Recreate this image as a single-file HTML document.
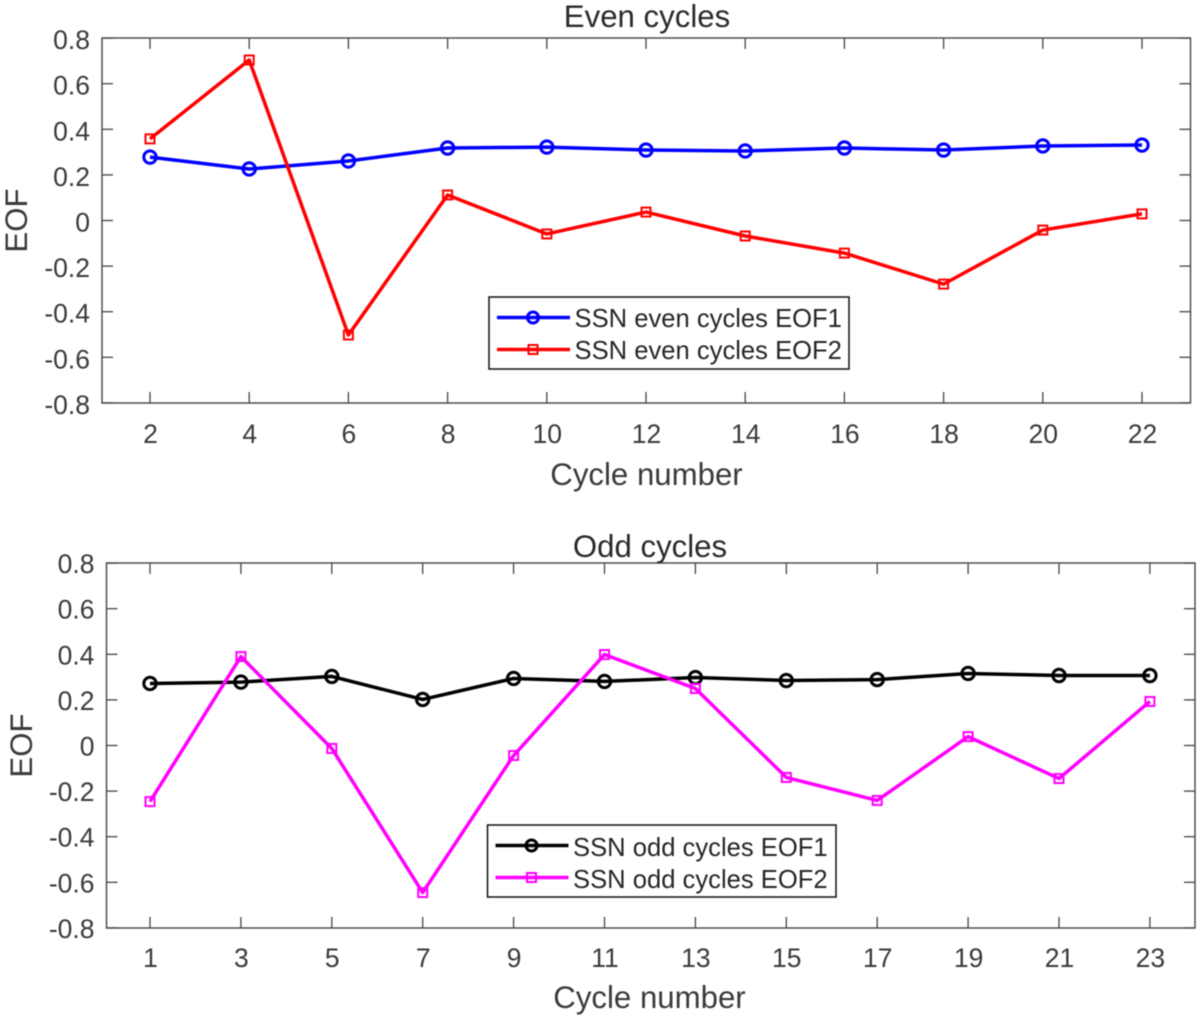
<!DOCTYPE html>
<html lang="en">
<head>
<meta charset="utf-8">
<title>Even and odd cycles EOF</title>
<style>
html,body{margin:0;padding:0;background:#fff;width:1200px;height:1019px;overflow:hidden}
svg{display:block;filter:blur(0.5px)}
text{font-family:"Liberation Sans",Arial,sans-serif}
</style>
</head>
<body>
<svg id="figure" xmlns="http://www.w3.org/2000/svg" width="1200" height="1019" viewBox="0 0 1200 1019"></svg>
<script>
const evenCycles = [2, 4, 6, 8, 10, 12, 14, 16, 18, 20, 22];
const evenEof1 = [0.278, 0.226, 0.261, 0.318, 0.322, 0.309, 0.305, 0.318, 0.309, 0.327, 0.331];
const evenEof2 = [0.358, 0.704, -0.502, 0.112, -0.059, 0.037, -0.068, -0.143, -0.279, -0.042, 0.029];
const oddCycles = [1, 3, 5, 7, 9, 11, 13, 15, 17, 19, 21, 23];
const oddEof1 = [0.272, 0.278, 0.303, 0.202, 0.294, 0.281, 0.298, 0.285, 0.289, 0.316, 0.307, 0.307];
const oddEof2 = [-0.246, 0.390, -0.013, -0.645, -0.044, 0.399, 0.250, -0.140, -0.241, 0.039, -0.145, 0.193];
const yTickValues = [0.8, 0.6, 0.4, 0.2, 0, -0.2, -0.4, -0.6, -0.8];
const evenTitle = 'Even cycles';
const oddTitle = 'Odd cycles';
const evenLegendLabels = ['SSN even cycles EOF1', 'SSN even cycles EOF2'];
const oddLegendLabels = ['SSN odd cycles EOF1', 'SSN odd cycles EOF2'];

const NS = 'http://www.w3.org/2000/svg';
const figure = document.getElementById('figure');
const AXIS = '#444444';

function make(parent, tag, attrs, text) {
  const el = document.createElementNS(NS, tag);
  for (const k in attrs) el.setAttribute(k, attrs[k]);
  if (text !== undefined) el.textContent = text;
  parent.appendChild(el);
  return el;
}

function marker(parent, kind, x, y, color, name, small) {
  let el;
  if (kind === 'circle') {
    el = make(parent, 'circle', {cx: x, cy: y, r: small ? 5.5 : 6.2, fill: 'none', stroke: color, 'stroke-width': 3});
  } else {
    const s = 9;
    el = make(parent, 'rect', {x: x - s / 2, y: y - s / 2, width: s, height: s, fill: 'none', stroke: color, 'stroke-width': 2});
  }
  
  
}

function drawPanel(cfg) {
  const g = make(figure, 'g', {});
  
  

  const xScale = v => cfg.x0 + (v - cfg.cats[0]) * cfg.xStep;
  const yScale = v => cfg.yZero - v * cfg.yUnit;

  const frame = make(g, 'rect', {x: cfg.left, y: cfg.top, width: cfg.right - cfg.left, height: cfg.bottom - cfg.top, fill: '#fff', stroke: AXIS, 'stroke-width': 1.4});
  
  

  cfg.cats.forEach(c => {
    const x = xScale(c);
    const top = make(g, 'line', {x1: x, x2: x, y1: cfg.top, y2: cfg.top + 11, stroke: AXIS, 'stroke-width': 1.3});
    
    
    const bottom = make(g, 'line', {x1: x, x2: x, y1: cfg.bottom, y2: cfg.bottom - 11, stroke: AXIS, 'stroke-width': 1.3});
    
    
    const label = make(g, 'text', {x: x + 0.5, y: cfg.bottom + cfg.xLabelDy, 'text-anchor': 'middle', 'font-size': 26.5, fill: '#3a3a3a'}, String(c));
    
    
  });

  yTickValues.forEach(v => {
    const y = yScale(v);
    const left = make(g, 'line', {x1: cfg.left, x2: cfg.left + 11, y1: y, y2: y, stroke: AXIS, 'stroke-width': 1.3});
    
    
    const right = make(g, 'line', {x1: cfg.right, x2: cfg.right - 11, y1: y, y2: y, stroke: AXIS, 'stroke-width': 1.3});
    
    
    const label = make(g, 'text', {x: cfg.left - 12, y: y + cfg.yLabelDy, 'text-anchor': 'end', 'font-size': 26.5, fill: '#3a3a3a'}, String(v));
    
    
  });

  const title = make(g, 'text', {x: cfg.titleX, y: cfg.titleY, 'text-anchor': 'middle', 'font-size': 31.2, fill: '#2a2a2a'}, cfg.title);
  
  

  const xTitle = make(g, 'text', {x: cfg.titleX - 0.5, y: cfg.bottom + cfg.xTitleDy, 'text-anchor': 'middle', 'font-size': 31.2, fill: '#3a3a3a'}, 'Cycle number');
  
  

  const yTitle = make(g, 'text', {x: 0, y: 0, transform: 'translate(' + cfg.yTitleX + ' ' + cfg.yZero + ') rotate(-90)', 'text-anchor': 'middle', 'font-size': 31.2, fill: '#3a3a3a'}, 'EOF');
  
  

  cfg.series.forEach(s => {
    const line = make(g, 'polyline', {
      points: cfg.cats.map((c, i) => xScale(c) + ',' + yScale(s.values[i])).join(' '),
      fill: 'none', stroke: s.color, 'stroke-width': 3.5, 'stroke-linejoin': 'round'
    });
    
    
    cfg.cats.forEach((c, i) => marker(g, s.kind, xScale(c), yScale(s.values[i]), s.color, s.name + '-point', false));
  });

  const lg = make(g, 'g', {});
  
  
  make(lg, 'rect', {x: cfg.legend.x, y: cfg.legend.y, width: cfg.legend.w, height: cfg.legend.h, fill: '#fff', stroke: '#111', 'stroke-width': 1.5});
  cfg.series.forEach((s, i) => {
    const y = cfg.legend.y + 20.5 + i * 32;
    const entry = make(lg, 'g', {});
    
    
    make(entry, 'line', {x1: cfg.legend.x + 8, x2: cfg.legend.x + 81, y1: y, y2: y, stroke: s.color, 'stroke-width': 3.5});
    marker(entry, s.kind, cfg.legend.x + 44, y, s.color, s.name + '-legend-marker', true);
    make(entry, 'text', {x: cfg.legend.x + 85.5, y: y + cfg.legendTextDy, 'font-size': 25.6, fill: '#262626'}, cfg.legendLabels[i]);
  });
}

drawPanel({
  id: 'even-cycles', title: evenTitle, titleX: 647, titleY: 27, yTitleX: 27,
  left: 102, right: 1190.5, top: 38, bottom: 403,
  x0: 150, xStep: 49.6, yZero: 220.5, yUnit: 228,
  xLabelDy: 40, yLabelDy: 11, xTitleDy: 82, legendTextDy: 9.5,
  cats: evenCycles,
  legend: {x: 489, y: 297, w: 360, h: 72},
  legendLabels: evenLegendLabels,
  series: [
    {name: 'even-eof1', values: evenEof1, color: '#0000ff', kind: 'circle'},
    {name: 'even-eof2', values: evenEof2, color: '#ff0000', kind: 'square'}
  ]
});

drawPanel({
  id: 'odd-cycles', title: oddTitle, titleX: 650, titleY: 557, yTitleX: 32,
  left: 106.5, right: 1195, top: 563, bottom: 928,
  x0: 150, xStep: 45.45, yZero: 745.5, yUnit: 228,
  xLabelDy: 39, yLabelDy: 10, xTitleDy: 80, legendTextDy: 10.5,
  cats: oddCycles,
  legend: {x: 487.5, y: 825, w: 348.5, h: 72},
  legendLabels: oddLegendLabels,
  series: [
    {name: 'odd-eof1', values: oddEof1, color: '#000000', kind: 'circle'},
    {name: 'odd-eof2', values: oddEof2, color: '#ff00ff', kind: 'square'}
  ]
});
</script>
</body>
</html>
